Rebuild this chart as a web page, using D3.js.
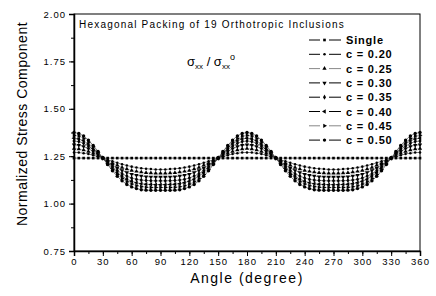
<!DOCTYPE html>
<html><head><meta charset="utf-8">
<script src="https://cdn.jsdelivr.net/npm/d3@7"></script>
<style>
body{margin:0;background:#fff;}
svg{display:block;font-family:"Liberation Sans",Arial,sans-serif;}
</style></head>
<body><svg id="chart" width="436" height="296"></svg>
<script>
const angles = [0,5,10,15,20,25,30,35,40,45,50,55,60,65,70,75,80,85,90,95,100,105,110,115,120,125,130,135,140,145,150,155,160,165,170,175,180,185,190,195,200,205,210,215,220,225,230,235,240,245,250,255,260,265,270,275,280,285,290,295,300,305,310,315,320,325,330,335,340,345,350,355,360];
const seriesNames = ["Single","c = 0.20","c = 0.25","c = 0.30","c = 0.35","c = 0.40","c = 0.45","c = 0.50"];
const single = [1.24,1.24,1.24,1.24,1.24,1.24,1.24,1.24,1.24,1.24,1.24,1.24,1.24,1.24,1.24,1.24,1.24,1.24,1.24,1.24,1.24,1.24,1.24,1.24,1.24,1.24,1.24,1.24,1.24,1.24,1.24,1.24,1.24,1.24,1.24,1.24,1.24,1.24,1.24,1.24,1.24,1.24,1.24,1.24,1.24,1.24,1.24,1.24,1.24,1.24,1.24,1.24,1.24,1.24,1.24,1.24,1.24,1.24,1.24,1.24,1.24,1.24,1.24,1.24,1.24,1.24,1.24,1.24,1.24,1.24,1.24,1.24,1.24];
const c020 = [1.270,1.269,1.266,1.262,1.255,1.248,1.240,1.232,1.223,1.215,1.208,1.201,1.195,1.190,1.186,1.184,1.182,1.180,1.180,
 1.180,1.182,1.184,1.186,1.190,1.195,1.201,1.208,1.215,1.223,1.232,1.240,1.248,1.255,1.262,1.266,1.269,1.270,
 1.269,1.266,1.262,1.255,1.248,1.240,1.232,1.223,1.215,1.208,1.201,1.195,1.190,1.186,1.184,1.182,1.180,1.180,
 1.180,1.182,1.184,1.186,1.190,1.195,1.201,1.208,1.215,1.223,1.232,1.240,1.248,1.255,1.262,1.266,1.269,1.270];
const c025 = [1.290,1.288,1.283,1.275,1.265,1.253,1.240,1.227,1.214,1.202,1.191,1.182,1.175,1.170,1.166,1.163,1.161,1.160,1.160,
 1.160,1.161,1.163,1.166,1.170,1.175,1.182,1.191,1.202,1.214,1.227,1.240,1.253,1.265,1.275,1.283,1.288,1.290,
 1.288,1.283,1.275,1.265,1.253,1.240,1.227,1.214,1.202,1.191,1.182,1.175,1.170,1.166,1.163,1.161,1.160,1.160,
 1.160,1.161,1.163,1.166,1.170,1.175,1.182,1.191,1.202,1.214,1.227,1.240,1.253,1.265,1.275,1.283,1.288,1.290];
const c030 = [1.310,1.308,1.301,1.290,1.275,1.258,1.240,1.222,1.204,1.188,1.175,1.164,1.155,1.149,1.145,1.142,1.141,1.140,1.140,
 1.140,1.141,1.142,1.145,1.149,1.155,1.164,1.175,1.188,1.204,1.222,1.240,1.258,1.275,1.290,1.301,1.308,1.310,
 1.308,1.301,1.290,1.275,1.258,1.240,1.222,1.204,1.188,1.175,1.164,1.155,1.149,1.145,1.142,1.141,1.140,1.140,
 1.140,1.141,1.142,1.145,1.149,1.155,1.164,1.175,1.188,1.204,1.222,1.240,1.258,1.275,1.290,1.301,1.308,1.310];
const c035 = [1.330,1.327,1.318,1.303,1.285,1.263,1.240,1.217,1.195,1.175,1.158,1.145,1.135,1.128,1.124,1.122,1.121,1.120,1.120,
 1.120,1.121,1.122,1.124,1.128,1.135,1.145,1.158,1.175,1.195,1.217,1.240,1.263,1.285,1.303,1.318,1.327,1.330,
 1.327,1.318,1.303,1.285,1.263,1.240,1.217,1.195,1.175,1.158,1.145,1.135,1.128,1.124,1.122,1.121,1.120,1.120,
 1.120,1.121,1.122,1.124,1.128,1.135,1.145,1.158,1.175,1.195,1.217,1.240,1.263,1.285,1.303,1.318,1.327,1.330];
const c040 = [1.345,1.341,1.331,1.314,1.292,1.267,1.240,1.213,1.187,1.164,1.145,1.129,1.118,1.110,1.105,1.102,1.101,1.100,1.100,
 1.100,1.101,1.102,1.105,1.110,1.118,1.129,1.145,1.164,1.187,1.213,1.240,1.267,1.292,1.314,1.331,1.341,1.345,
 1.341,1.331,1.314,1.292,1.267,1.240,1.213,1.187,1.164,1.145,1.129,1.118,1.110,1.105,1.102,1.101,1.100,1.100,
 1.100,1.101,1.102,1.105,1.110,1.118,1.129,1.145,1.164,1.187,1.213,1.240,1.267,1.292,1.314,1.331,1.341,1.345];
const c045 = [1.360,1.356,1.344,1.325,1.300,1.271,1.240,1.209,1.180,1.154,1.132,1.115,1.103,1.094,1.089,1.086,1.085,1.085,1.085,
 1.085,1.085,1.086,1.089,1.094,1.103,1.115,1.132,1.154,1.180,1.209,1.240,1.271,1.300,1.325,1.344,1.356,1.360,
 1.356,1.344,1.325,1.300,1.271,1.240,1.209,1.180,1.154,1.132,1.115,1.103,1.094,1.089,1.086,1.085,1.085,1.085,
 1.085,1.085,1.086,1.089,1.094,1.103,1.115,1.132,1.154,1.180,1.209,1.240,1.271,1.300,1.325,1.344,1.356,1.360];
const c050 = [1.375,1.370,1.357,1.335,1.307,1.275,1.240,1.206,1.173,1.144,1.120,1.101,1.088,1.079,1.073,1.071,1.070,1.070,1.070,
 1.070,1.070,1.071,1.073,1.079,1.088,1.101,1.120,1.144,1.173,1.206,1.240,1.275,1.307,1.335,1.357,1.370,1.375,
 1.370,1.357,1.335,1.307,1.275,1.240,1.206,1.173,1.144,1.120,1.101,1.088,1.079,1.073,1.071,1.070,1.070,1.070,
 1.070,1.070,1.071,1.073,1.079,1.088,1.101,1.120,1.144,1.173,1.206,1.240,1.275,1.307,1.335,1.357,1.370,1.375];
const xTicks = [0,30,60,90,120,150,180,210,240,270,300,330,360];
const yTicks = [0.75,1.00,1.25,1.50,1.75,2.00];
const titleText = "Hexagonal Packing of 19 Orthotropic Inclusions";
const xLabel = "Angle (degree)";
const yLabel = "Normalized Stress Component";

const seriesValues = [single,c020,c025,c030,c035,c040,c045,c050];
const markers = [
  {type:d3.symbolSquare,size:7,rot:0},
  {type:d3.symbolCircle,size:5,rot:0},
  {type:d3.symbolTriangle,size:8,rot:0},
  {type:d3.symbolTriangle,size:8,rot:180},
  {type:d3.symbolDiamond,size:8,rot:0},
  {type:d3.symbolTriangle,size:8,rot:-90},
  {type:d3.symbolTriangle,size:8,rot:90},
  {type:d3.symbolCircle,size:9,rot:0}
];
const lineColors = ["#000","#000","#888","#000","#000","#000","#888","#000"];

const svg = d3.select("#chart");
const x = d3.scaleLinear().domain([0,360]).range([74,420]);
const y = d3.scaleLinear().domain([0.75,2.0]).range([251,14]);

svg.append("rect").attr("x",74).attr("y",14).attr("width",346).attr("height",237)
  .attr("fill","none").attr("stroke","#000").attr("stroke-width",1);

const line = d3.line().x((d,i)=>x(angles[i])).y(d=>y(d));
seriesValues.forEach((vals,k)=>{
  const g = svg.append("g");
  g.append("path").datum(vals).attr("d",line).attr("fill","none")
    .attr("stroke",lineColors[k]).attr("stroke-width",0.5);
  const sym = d3.symbol().type(markers[k].type).size(markers[k].size);
  g.selectAll("path.m").data(vals).join("path").attr("class","m")
    .attr("d",sym)
    .attr("transform",(d,i)=>`translate(${x(angles[i])},${y(d)}) rotate(${markers[k].rot})`)
    .attr("fill","#000");
});

const xMinor = d3.range(0,361,15);
const yMinor = d3.range(0.75,2.001,0.125);
const xa = svg.append("g").attr("transform","translate(0,251)")
  .call(d3.axisBottom(x).tickValues(xMinor).tickSize(3).tickFormat(""));
xa.select(".domain").remove();
const xb = svg.append("g").attr("transform","translate(0,251)")
  .call(d3.axisBottom(x).tickValues(xTicks).tickSize(5).tickPadding(2).tickFormat(d3.format("d")));
xb.select(".domain").attr("stroke-width",1.5);
xb.selectAll("text").attr("font-size",9.5).attr("letter-spacing","1px").attr("fill","#000")
  .attr("font-family","Liberation Sans, Arial, sans-serif");

const ya = svg.append("g").attr("transform","translate(74,0)")
  .call(d3.axisLeft(y).tickValues(yMinor).tickSize(3).tickFormat(""));
ya.select(".domain").remove();
const yb = svg.append("g").attr("transform","translate(74,0)")
  .call(d3.axisLeft(y).tickValues(yTicks).tickSize(5).tickPadding(3).tickFormat(d3.format(".2f")));
yb.select(".domain").attr("stroke-width",1.5);
yb.selectAll("text").attr("font-size",9.5).attr("letter-spacing","1px").attr("fill","#000")
  .attr("font-family","Liberation Sans, Arial, sans-serif");

svg.append("text").attr("x",79).attr("y",28).attr("font-size",10).attr("letter-spacing","1.2px")
  .text(titleText);

const sg = svg.append("text").attr("x",187).attr("y",66).attr("font-size",13);
sg.append("tspan").text("σ");
sg.append("tspan").attr("font-size",8).attr("dy",3).text("xx");
sg.append("tspan").attr("dy",-3).text(" / σ");
sg.append("tspan").attr("font-size",8).attr("dy",3).text("xx");
sg.append("tspan").attr("font-size",9).attr("dy",-9).text("o");

seriesNames.forEach((name,k)=>{
  const ly = 40 + k*14.3;
  const g = svg.append("g");
  g.append("line").attr("x1",309).attr("x2",320).attr("y1",ly).attr("y2",ly)
    .attr("stroke",lineColors[k]).attr("stroke-width",1);
  g.append("line").attr("x1",329).attr("x2",341).attr("y1",ly).attr("y2",ly)
    .attr("stroke",lineColors[k]).attr("stroke-width",1);
  g.append("path").attr("d",d3.symbol().type(markers[k].type).size(markers[k].size)())
    .attr("transform",`translate(324.5,${ly}) rotate(${markers[k].rot})`).attr("fill","#000");
  g.append("text").attr("x",346).attr("y",ly+4).attr("font-size",11).attr("font-weight","bold")
    .attr("letter-spacing","0.8px").text(name);
});

svg.append("text").attr("x",247).attr("y",283).attr("text-anchor","middle")
  .attr("font-size",14).attr("letter-spacing","1.5px").text(xLabel);
svg.append("text").attr("transform","translate(27,124) rotate(-90)").attr("text-anchor","middle")
  .attr("font-size",14).attr("letter-spacing","0.5px").text(yLabel);
</script></body></html>
